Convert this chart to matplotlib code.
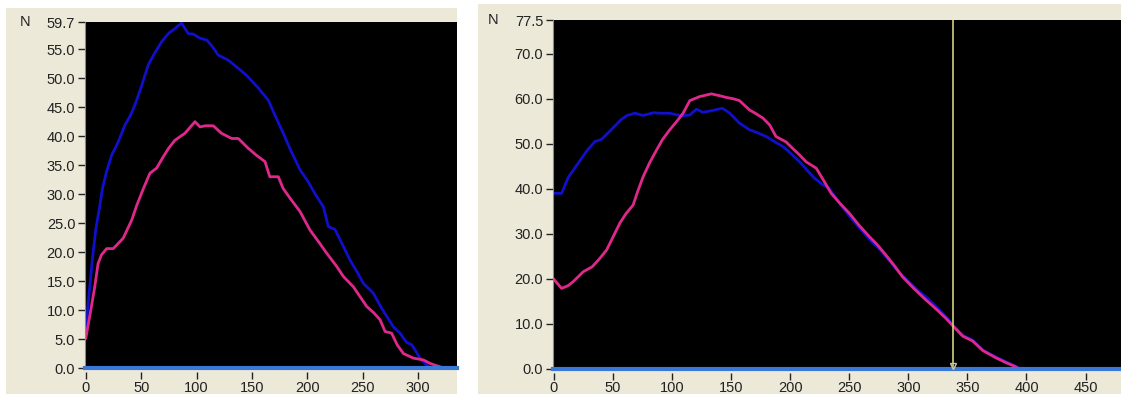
import matplotlib.pyplot as plt
from matplotlib.patches import Rectangle

plt.rcParams['font.family'] = ['Liberation Sans', 'DejaVu Sans']
plt.rcParams['font.size'] = 10.5

# panel 1 (left)
left_blue_x = [0, 2, 4, 6, 9, 12.6, 15, 18.7, 23.2, 29.2, 35.2, 40, 44.3, 50, 56.3, 62, 68.4, 75, 80,
               86.4, 92.4, 97, 103, 109, 114, 119.5, 128.6, 137.6, 145, 155.7, 164.7, 170.7, 178.2, 185,
               193.3, 200.8, 207, 214.4, 218.9, 224.9, 232.4, 238.5, 245, 250.5, 259.5, 267, 277.6,
               283.6, 289.6, 294.2, 301.7, 307.7, 312]
left_blue_y = [6.5, 11, 15, 19, 24, 28, 31, 33.9, 36.7, 39, 41.9, 43.5, 45.4, 48.5, 52.3, 54.3, 56.3, 57.8, 58.5,
               59.5, 57.7, 57.6, 56.9, 56.6, 55.5, 54, 53.1, 51.7, 50.5, 48.3, 46.2, 43.6, 40.5, 37.5,
               34.2, 32.1, 30, 27.8, 24.4, 23.9, 21, 18.6, 16.5, 14.6, 12.9, 10.3, 7.1,
               6, 4.4, 4.0, 1.7, 0.5, 0]
left_pink_x = [0, 5, 8, 11, 14, 18.7, 24.7, 33.7, 41.3, 45.8, 52, 57.8, 63.9, 70, 75, 80.4, 89.4, 98.5, 103,
               108, 115, 122.4, 131.6, 137.6, 146.6, 154, 161.7, 166, 170.7, 173.7, 178, 184.3, 193.3,
               202.3, 210, 217.4, 226.5, 232.4, 241.5, 247.5, 253.6, 260, 265.6, 270.1, 276, 281, 286.6,
               295.6, 304.6, 310.7, 315, 319.8]
left_pink_y = [5.2, 10.6, 14, 18, 19.5, 20.6, 20.6, 22.4, 25.5, 28, 31, 33.6, 34.5, 36.5, 38, 39.3, 40.5, 42.5, 41.6,
               41.8, 41.8, 40.5, 39.6, 39.6, 37.9, 36.7, 35.6, 33, 33, 33, 31, 29.3, 27,
               23.8, 21.8, 19.8, 17.5, 15.8, 14, 12.3, 10.6, 9.5, 8.3, 6.3, 6, 4, 2.5,
               1.7, 1.4, 0.8, 0.5, 0.2]
left_yticks = [0, 5, 10, 15, 20, 25, 30, 35, 40, 45, 50, 55, 59.7]
left_xticks = [0, 50, 100, 150, 200, 250, 300]

# panel 2 (right)
right_blue_x = [0, 6.5, 12, 20, 28, 34.7, 40.3, 48, 57, 62, 68.5, 75.5, 84, 90, 98, 108, 115, 120.6, 126, 134,
                142.6, 148.8, 157, 165.7, 172, 179.8, 186, 193.8, 200, 208, 213.5, 220, 227, 233, 240, 250,
                258, 268, 276, 284, 292, 300, 308, 317, 325, 334, 338, 346, 354.5, 363, 374, 382.7, 390, 395]
right_blue_y = [39, 39, 42.5, 45.5, 48.5, 50.5, 51, 53, 55.4, 56.3, 56.8, 56.3, 56.9, 56.8, 56.8, 56.2, 56.4, 57.7, 57, 57.4,
                57.9, 56.8, 54.6, 53.1, 52.5, 51.6, 50.6, 49.4, 48, 46, 44.4, 42.5, 41, 40.1, 37.5, 34,
                31.5, 28.5, 26.5, 24, 21.5, 19.5, 17.5, 15.5, 13.5, 11, 9.6, 7.5, 6.4, 4.2, 2.7, 1.6, 0.7, 0]
right_pink_x = [0, 6.5, 12, 16.3, 24.8, 32.4, 38, 44.5, 50, 55.8, 61, 67, 71, 75.5, 81, 86.8, 92, 98, 104,
                109.3, 115, 123.4, 133.3, 140, 146, 152, 157, 165.7, 171, 177, 182.6, 188, 191, 196.6,
                202, 208, 213.5, 222, 228, 234.7, 242, 250, 258, 267, 274, 281, 288, 295, 305, 315, 324,
                332, 338, 346, 354.5, 363, 374, 382.7, 390, 394]
right_pink_y = [19.9, 17.9, 18.5, 19.4, 21.6, 22.7, 24.3, 26.4, 29.3, 32.4, 34.5, 36.4, 39.5, 42.7, 45.8, 48.6, 51, 53.1, 55,
                56.8, 59.6, 60.5, 61.1, 60.7, 60.3, 60, 59.6, 57.5, 56.7, 55.7, 54.2, 51.6, 51.2, 50.4,
                49, 47.5, 46, 44.6, 42, 39, 36.8, 34.6, 32, 29.4, 27.5, 25.3, 23, 20.5, 17.8, 15.3, 13.2,
                11.2, 9.5, 7.3, 6.2, 4.1, 2.5, 1.4, 0.6, 0]
right_yticks = [0, 10, 20, 30, 40, 50, 60, 70, 77.5]
right_xticks = [0, 50, 100, 150, 200, 250, 300, 350, 400, 450]
cursor_x = 338

W, H = 1121, 394
beige = '#ece9d8'
blue = '#1010cc'
pink = '#e0288c'
base = '#3a78d8'

fig = plt.figure(figsize=(W / 100, H / 100), dpi=100)
fig.patches.append(Rectangle((6 / W, 0), (457 - 6) / W, (H - 8) / H, transform=fig.transFigure,
                             facecolor=beige, edgecolor='none', zorder=-10))
fig.patches.append(Rectangle((478 / W, 0), (W - 478) / W, (H - 4) / H, transform=fig.transFigure,
                             facecolor=beige, edgecolor='none', zorder=-10))

ax1 = fig.add_axes([85 / W, (H - 368) / H, (457 - 85) / W, 346 / H])
ax2 = fig.add_axes([553 / W, (H - 369) / H, (W - 553) / W, 349 / H])

ax1.plot(left_blue_x, left_blue_y, color=blue, lw=2)
ax1.plot(left_pink_x, left_pink_y, color=pink, lw=2)
ax1.set_xlim(-0.8, 335)
ax1.set_ylim(0, 59.7)
ax1.set_yticks(left_yticks)
ax1.set_yticklabels(['%.1f' % v for v in left_yticks])
ax1.set_xticks(left_xticks)

ax2.plot(right_blue_x, right_blue_y, color=blue, lw=2)
ax2.plot(right_pink_x, right_pink_y, color=pink, lw=2)
ax2.axvline(cursor_x, color='#d2d27a', lw=1.2)
ax2.plot(cursor_x, 0.6, marker='v', mfc='none', mec='#c8c8a0', ms=5, clip_on=False, zorder=5)
ax2.set_xlim(-0.8, 480)
ax2.set_ylim(0, 77.5)
ax2.set_yticks(right_yticks)
ax2.set_yticklabels(['%.1f' % v for v in right_yticks])
ax2.set_xticks(right_xticks)

for ax in (ax1, ax2):
    ax.set_facecolor('black')
    ax.axhline(0, color=base, lw=3, clip_on=False, zorder=4)
    ax.spines['top'].set_visible(False)
    ax.spines['right'].set_visible(False)
    ax.spines['left'].set_color('#8a8a8a')
    ax.spines['bottom'].set_visible(False)
    ax.spines['bottom'].set_position(('outward', 3))
    ax.tick_params(axis='y', length=5, width=1, pad=2, colors='#222222')
    ax.tick_params(axis='x', length=5, width=1, pad=1, colors='#222222')

fig.text(20 / W, 1 - 22 / H, 'N', ha='left', va='center', fontsize=10.5, color='#222222')
fig.text(488 / W, 1 - 20 / H, 'N', ha='left', va='center', fontsize=10.5, color='#222222')

fig.savefig('out.png', dpi=100, facecolor='white')
